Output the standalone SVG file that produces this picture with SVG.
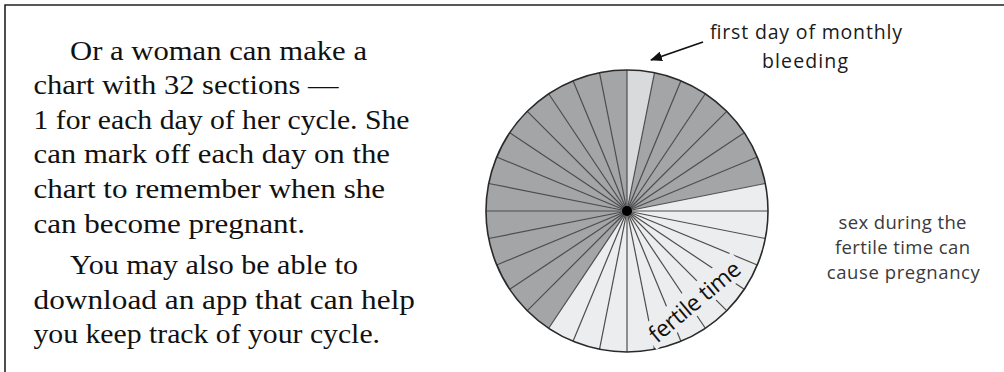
<svg xmlns="http://www.w3.org/2000/svg" width="1004" height="372" viewBox="0 0 1004 372">
<defs>
<style>
.body{font-family:"Liberation Serif","Times New Roman",serif;font-size:28px;fill:#111;}
.lbl{font-family:"Open Sans","Noto Sans",sans-serif;font-size:19.5px;fill:#1a1a1a;}
.note{font-family:"Open Sans","Noto Sans",sans-serif;font-size:18.5px;fill:#3a3a3a;text-anchor:middle;}
.ray{stroke:#4d4d4d;stroke-width:1.2;fill:none;}
.dark{fill:#a4a5a7;}
.light{fill:#ecedee;}
.first{fill:#d9dadc;}
</style>
<marker id="ah" viewBox="0 0 12 10" refX="11" refY="5" markerWidth="12" markerHeight="10" markerUnits="userSpaceOnUse" orient="auto">
<path d="M0,0 L12,5 L0,10 Z" fill="#111"/>
</marker>
</defs>
<rect width="1004" height="372" fill="#fff"/>
<g id="frame" stroke="#222" stroke-width="1.6" fill="none">
<path d="M5,372 V5 H1004"/>
</g>
<g id="text-block">
<text class="body" x="70" y="59.5" textLength="297" lengthAdjust="spacingAndGlyphs">Or a woman can make a</text>
<text class="body" x="33.5" y="94" textLength="305" lengthAdjust="spacingAndGlyphs">chart with 32 sections —</text>
<text class="body" x="33.5" y="128.7" textLength="376" lengthAdjust="spacingAndGlyphs">1 for each day of her cycle. She</text>
<text class="body" x="33.5" y="163.4" textLength="356.5" lengthAdjust="spacingAndGlyphs">can mark off each day on the</text>
<text class="body" x="33.5" y="198" textLength="351.5" lengthAdjust="spacingAndGlyphs">chart to remember when she</text>
<text class="body" x="33.5" y="232.7" textLength="271.5" lengthAdjust="spacingAndGlyphs">can become pregnant.</text>
<text class="body" x="70" y="274" textLength="288" lengthAdjust="spacingAndGlyphs">You may also be able to</text>
<text class="body" x="33.5" y="308.7" textLength="381.5" lengthAdjust="spacingAndGlyphs">download an app that can help</text>
<text class="body" x="33.5" y="343.4" textLength="346.5" lengthAdjust="spacingAndGlyphs">you keep track of your cycle.</text>
</g>
<g id="cycle-chart">
<path class="first" d="M627,211 L627,70 A141,141 0 0 1 654.51,72.71 Z"/>
<path class="dark" d="M627,211 L654.51,72.71 A141,141 0 0 1 765.29,183.49 Z"/>
<path class="light" d="M627,211 L765.29,183.49 A141,141 0 0 1 548.66,328.24 Z"/>
<path class="dark" d="M627,211 L548.66,328.24 A141,141 0 0 1 627,70 Z"/>
<g class="ray">
<line x1="627" y1="211" x2="627" y2="70"/>
<line x1="627" y1="211" x2="654.51" y2="72.71"/>
<line x1="627" y1="211" x2="680.96" y2="80.73"/>
<line x1="627" y1="211" x2="705.34" y2="93.76"/>
<line x1="627" y1="211" x2="726.70" y2="111.30"/>
<line x1="627" y1="211" x2="744.24" y2="132.66"/>
<line x1="627" y1="211" x2="757.27" y2="157.04"/>
<line x1="627" y1="211" x2="765.29" y2="183.49"/>
<line x1="627" y1="211" x2="768" y2="211"/>
<line x1="627" y1="211" x2="765.29" y2="238.51"/>
<line x1="627" y1="211" x2="757.27" y2="264.96"/>
<line x1="627" y1="211" x2="744.24" y2="289.34"/>
<line x1="627" y1="211" x2="726.70" y2="310.70"/>
<line x1="627" y1="211" x2="705.34" y2="328.24"/>
<line x1="627" y1="211" x2="680.96" y2="341.27"/>
<line x1="627" y1="211" x2="654.51" y2="349.29"/>
<line x1="627" y1="211" x2="627" y2="352"/>
<line x1="627" y1="211" x2="599.49" y2="349.29"/>
<line x1="627" y1="211" x2="573.04" y2="341.27"/>
<line x1="627" y1="211" x2="548.66" y2="328.24"/>
<line x1="627" y1="211" x2="527.30" y2="310.70"/>
<line x1="627" y1="211" x2="509.76" y2="289.34"/>
<line x1="627" y1="211" x2="496.73" y2="264.96"/>
<line x1="627" y1="211" x2="488.71" y2="238.51"/>
<line x1="627" y1="211" x2="486" y2="211"/>
<line x1="627" y1="211" x2="488.71" y2="183.49"/>
<line x1="627" y1="211" x2="496.73" y2="157.04"/>
<line x1="627" y1="211" x2="509.76" y2="132.66"/>
<line x1="627" y1="211" x2="527.30" y2="111.30"/>
<line x1="627" y1="211" x2="548.66" y2="93.76"/>
<line x1="627" y1="211" x2="573.04" y2="80.73"/>
<line x1="627" y1="211" x2="599.49" y2="72.71"/>
</g>
<circle cx="627" cy="211" r="141" fill="none" stroke="#2a2a2a" stroke-width="1.6"/>
<circle cx="627" cy="211" r="5" fill="#000"/>
<g transform="translate(695,302) rotate(-40)">
<rect x="-60" y="-15" width="120" height="27" class="light"/>
<text x="0" y="7.5" text-anchor="middle" font-family="'Open Sans','Noto Sans',sans-serif" font-size="23" fill="#111" textLength="112">fertile time</text>
</g>
</g>
<g id="label-first-day">
<text class="lbl" x="806" y="39" text-anchor="middle" textLength="192">first day of monthly</text>
<text class="lbl" x="805" y="68" text-anchor="middle" textLength="86">bleeding</text>
</g>
<g id="label-sex">
<text class="note" x="902.5" y="229.3" textLength="128">sex during the</text>
<text class="note" x="902.5" y="254.3" textLength="135">fertile time can</text>
<text class="note" x="903.3" y="279.3" textLength="153">cause pregnancy</text>
</g>
<g id="connectors">
<line x1="703" y1="42" x2="651" y2="60" stroke="#111" stroke-width="1.8" marker-end="url(#ah)"/>
</g>
</svg>
